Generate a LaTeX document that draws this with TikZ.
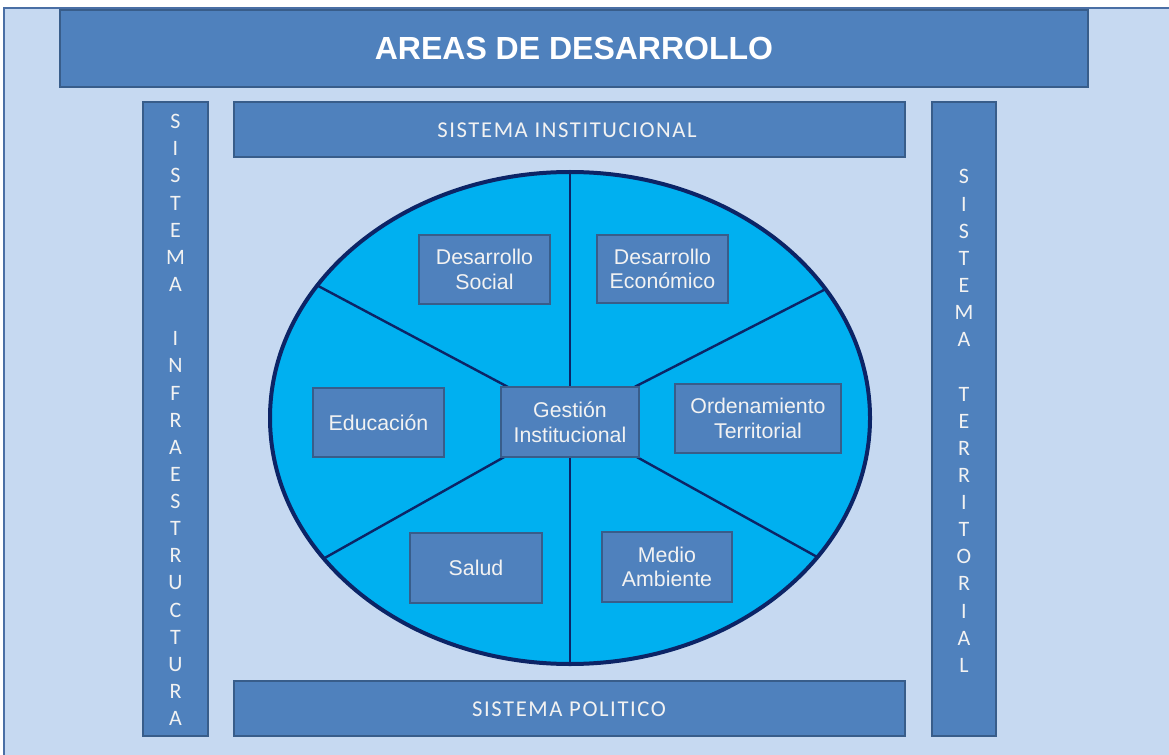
\documentclass[tikz,border=0pt]{standalone}
\usepackage{fontspec}
\setmainfont{Liberation Sans}
\newfontfamily\calib[LetterSpace=7]{Carlito}
\newfontfamily\calibv{Carlito}
\usetikzlibrary{fit,calc}
\definecolor{panel}{HTML}{C6D9F1}
\definecolor{panelborder}{HTML}{4A6FA5}
\definecolor{boxblue}{HTML}{4F81BD}
\definecolor{boxborder}{HTML}{385D8A}
\definecolor{cyanfill}{HTML}{00B0F0}
\definecolor{navy}{HTML}{0C2466}
\definecolor{lighttext}{HTML}{F2F2F2}
\tikzset{
  bluebox/.style={fill=boxblue, draw=boxborder, line width=1.4pt, inner sep=0pt, text=lighttext, align=center},
  innerbox/.style={bluebox, line width=1.1pt},
  sysbox/.style={bluebox},
  vertbox/.style={bluebox},
  innertext/.style={text=lighttext, font={\fontsize{16}{18.5}\selectfont}, align=center},
  systext/.style={text=lighttext, font={\calib\fontsize{17}{20}\selectfont}},
  verttext/.style={text=lighttext, font={\calibv\fontsize{16.5}{20.35}\selectfont}, align=center},
  divider/.style={draw=navy, line width=1.8pt},
}
\begin{document}
\begin{tikzpicture}[x=0.75pt,y=-0.75pt]
\useasboundingbox (0,0) rectangle (1169,755);
\fill[white] (0,0) rectangle (1169,755);
% panel
\draw[fill=panel, draw=panelborder, line width=1.5pt] (4,8) rectangle (1180,770);
% title
\node[bluebox, fit={(60,10) (1088,87)}] (title) {};
\node[text=white, font={\bfseries\fontsize{24}{28}\selectfont}] (titletext) at (574,48) {AREAS DE DESARROLLO};
% side columns
\node[vertbox, fit={(143,102) (208,736)}] (left) {};
\node[verttext] (lefttext) at (175.5,420)
  {S\\I\\S\\T\\E\\M\\A\\\mbox{}\\I\\N\\F\\R\\A\\E\\S\\T\\R\\U\\C\\T\\U\\R\\A};
\node[vertbox, fit={(932,102) (996,736)}] (right) {};
\node[verttext] (righttext) at (964,421)
  {S\\I\\S\\T\\E\\M\\A\\\mbox{}\\T\\E\\R\\R\\I\\T\\O\\R\\I\\A\\L};
% top and bottom systems
\node[sysbox, fit={(234,102) (905,157)}] (inst) {};
\node[systext] (insttext) at (567,130) {SISTEMA INSTITUCIONAL};
\node[sysbox, fit={(234,681) (905,736)}] (pol) {};
\node[systext] (poltext) at (569,709) {SISTEMA POLITICO};
% ellipse
\coordinate (c) at (570,420);
\fill[cyanfill] (570,418) ellipse [x radius=300, y radius=246];
\begin{scope}
  \clip (570,418) ellipse [x radius=300, y radius=246];
  \coordinate (ul) at ($(c)!1.3!(322,288)$);
  \coordinate (ur) at ($(c)!1.3!(818,293)$);
  \coordinate (ll) at ($(c)!1.3!(330,555)$);
  \coordinate (lr) at ($(c)!1.3!(810,553)$);
  \coordinate (top) at (570,150);
  \coordinate (bot) at (570,690);
  \draw[divider] (c) -- (ul);
  \draw[divider] (c) -- (ur);
  \draw[divider] (c) -- (ll);
  \draw[divider] (c) -- (lr);
  \draw[divider] (top) -- (bot);
\end{scope}
\draw[navy, line width=3pt] (570,418) ellipse [x radius=300, y radius=246];
% inner boxes
\node[innerbox, fit={(501,387) (639,457)}] (gest) {};
\node[innertext] at (gest.center) {Gestión\\Institucional};
\node[innerbox, fit={(419,235) (550,304)}] (social) {};
\node[innertext] at (social.center) {Desarrollo\\Social};
\node[innerbox, fit={(597,235) (728,303)}] (econ) {};
\node[innertext] at (econ.center) {Desarrollo\\Económico};
\node[innerbox, fit={(313,388) (444,457)}] (edu) {};
\node[innertext] at (edu.center) {Educación};
\node[innerbox, fit={(675,384) (841,453)}] (orden) {};
\node[innertext] at (orden.center) {Ordenamiento\\Territorial};
\node[innerbox, fit={(410,533) (542,603)}] (salud) {};
\node[innertext] at (salud.center) {Salud};
\node[innerbox, fit={(602,532) (732,602)}] (medio) {};
\node[innertext] at (medio.center) {Medio\\Ambiente};
\end{tikzpicture}
\end{document}
